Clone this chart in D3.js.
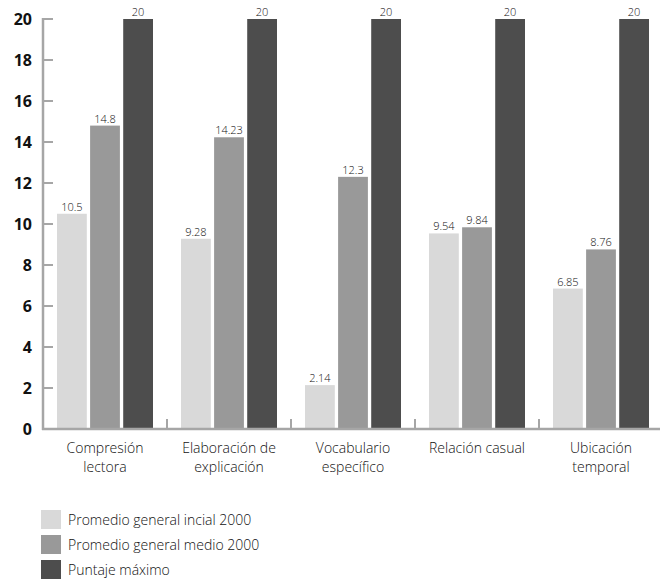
<!DOCTYPE html>
<html>
<head>
<meta charset="utf-8">
<script src="https://cdn.jsdelivr.net/npm/d3@7"></script>
<style>
  html, body { margin: 0; padding: 0; background: #fff; }
  svg { display: block; }
</style>
</head>
<body>
<svg id="chart" width="660" height="580"></svg>
<script>
// Category labels (two lines each)
const categories = [
  ["Compresión", "lectora"],
  ["Elaboración de", "explicación"],
  ["Vocabulario", "específico"],
  ["Relación casual"],
  ["Ubicación", "temporal"]
];
const seriesNames = [
  "Promedio general incial 2000",
  "Promedio general medio 2000",
  "Puntaje máximo"
];
const inicial2000 = [10.5, 9.28, 2.14, 9.54, 6.85];
const medio2000 = [14.8, 14.23, 12.3, 9.84, 8.76];
const puntajeMaximo = [20, 20, 20, 20, 20];
const valueLabels = [
  ["10.5", "9.28", "2.14", "9.54", "6.85"],
  ["14.8", "14.23", "12.3", "9.84", "8.76"],
  ["20", "20", "20", "20", "20"]
];
const yTicks = [0, 2, 4, 6, 8, 10, 12, 14, 16, 18, 20];
const colors = ["#d9d9d9", "#999999", "#4d4d4d"];

const series = [inicial2000, medio2000, puntajeMaximo];
const svg = d3.select("#chart");
const lightFont = "'Open Sans', 'DejaVu Sans', sans-serif";

const x0 = d3.scaleBand()
  .domain(d3.range(categories.length))
  .range([43, 663])
  .paddingInner(0)
  .paddingOuter(0);

const x1 = d3.scaleBand()
  .domain(d3.range(series.length))
  .range([14, x0.bandwidth() - 14])
  .paddingInner(0.1)
  .paddingOuter(0);

const y = d3.scaleLinear().domain([0, 20]).range([429, 19]);

const axisColor = "#a6a6a6";

// Bars
const groups = svg.append("g").selectAll("g")
  .data(categories.map((c, i) => i))
  .join("g")
  .attr("transform", i => `translate(${x0(i)},0)`);

const cells = i => series.map((s, k) => ({ k, v: s[i], label: valueLabels[k][i] }));

groups.selectAll("rect")
  .data(cells)
  .join("rect")
  .attr("x", d => x1(d.k))
  .attr("width", x1.bandwidth())
  .attr("y", d => y(d.v))
  .attr("height", d => y(0) - y(d.v))
  .attr("fill", d => colors[d.k]);

groups.selectAll("text.val")
  .data(cells)
  .join("text")
  .attr("class", "val")
  .attr("x", d => x1(d.k) + x1.bandwidth() / 2)
  .attr("y", d => y(d.v) - 3)
  .attr("text-anchor", "middle")
  .attr("font-family", lightFont)
  .attr("font-weight", 300)
  .attr("font-size", 11)
  .attr("fill", "#111")
  .text(d => d.label);

// Y axis
const yAxis = svg.append("g");
yAxis.append("line")
  .attr("x1", 43).attr("x2", 43)
  .attr("y1", y(20) - 1).attr("y2", y(0) + 1)
  .attr("stroke", axisColor).attr("stroke-width", 2.5);
yAxis.selectAll("line.tick")
  .data(yTicks)
  .join("line")
  .attr("class", "tick")
  .attr("x1", 43).attr("x2", 53)
  .attr("y1", d => y(d)).attr("y2", d => y(d))
  .attr("stroke", axisColor).attr("stroke-width", 2);
yAxis.selectAll("text")
  .data(yTicks)
  .join("text")
  .attr("x", 32)
  .attr("y", d => y(d))
  .attr("dy", "0.36em")
  .attr("text-anchor", "end")
  .attr("font-family", "'Open Sans', 'Liberation Sans', sans-serif")
  .attr("font-weight", "bold")
  .attr("font-size", 16)
  .attr("fill", "#111")
  .text(d => d);

// X axis
const xAxis = svg.append("g");
xAxis.append("line")
  .attr("x1", 42).attr("x2", 663)
  .attr("y1", y(0)).attr("y2", y(0))
  .attr("stroke", axisColor).attr("stroke-width", 2.5);
xAxis.selectAll("line.tick")
  .data(d3.range(1, categories.length + 1))
  .join("line")
  .attr("class", "tick")
  .attr("x1", i => x0(0) + i * x0.bandwidth())
  .attr("x2", i => x0(0) + i * x0.bandwidth())
  .attr("y1", y(0)).attr("y2", y(0) - 10)
  .attr("stroke", axisColor).attr("stroke-width", 2);

const catLabels = xAxis.selectAll("text")
  .data(categories)
  .join("text")
  .attr("x", (d, i) => x0(i) + x0.bandwidth() / 2)
  .attr("y", 453)
  .attr("text-anchor", "middle")
  .attr("font-family", lightFont)
  .attr("font-weight", 300)
  .attr("font-size", 14)
  .attr("fill", "#111");
catLabels.selectAll("tspan")
  .data(d => d)
  .join("tspan")
  .attr("x", function () { return d3.select(this.parentNode).attr("x"); })
  .attr("dy", (d, j) => j === 0 ? 0 : 19)
  .text(d => d);

// Legend
const legend = svg.append("g");
const legendItems = legend.selectAll("g")
  .data(seriesNames)
  .join("g")
  .attr("transform", (d, i) => `translate(41, ${510 + i * 25})`);
legendItems.append("rect")
  .attr("width", 20).attr("height", 19)
  .attr("fill", (d, i) => colors[i]);
legendItems.append("text")
  .attr("x", 27).attr("y", 10)
  .attr("dy", "0.35em")
  .attr("font-family", lightFont)
  .attr("font-weight", 300)
  .attr("font-size", 14)
  .attr("fill", "#111")
  .text(d => d);
</script>
</body>
</html>
